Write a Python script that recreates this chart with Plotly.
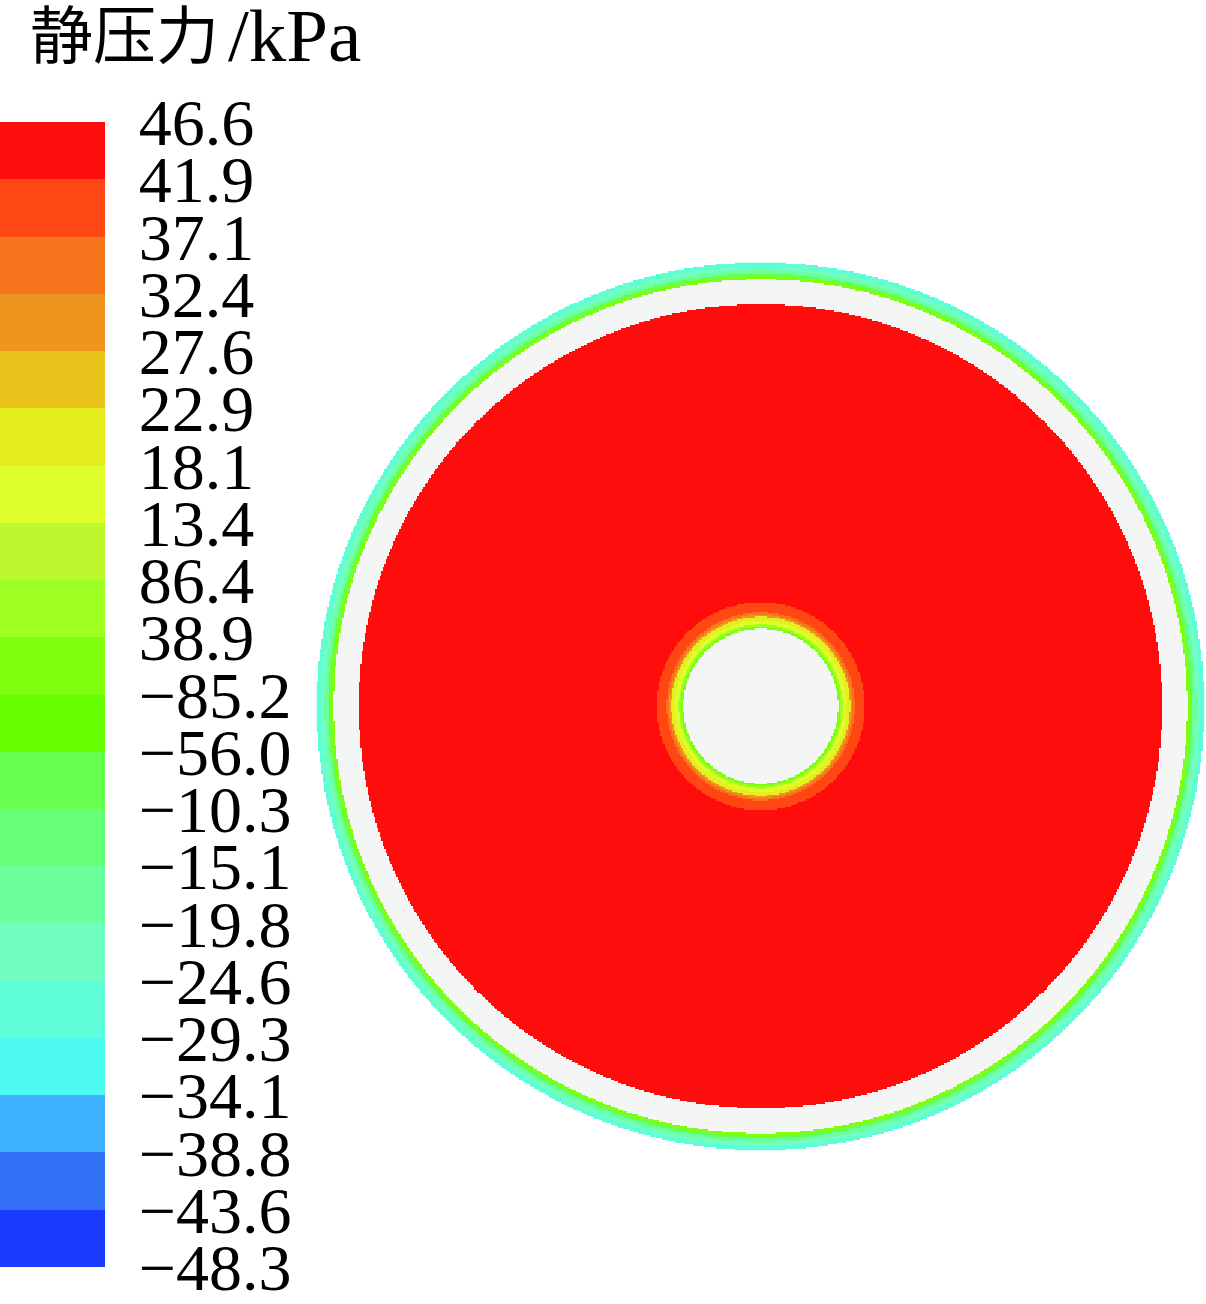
import numpy as np
import plotly.graph_objects as go

# ---------------- data ----------------
# colour-bar tick labels (as printed) and their level values (kPa)
tick_labels = ["46.6", "41.9", "37.1", "32.4", "27.6", "22.9", "18.1", "13.4",
               "86.4", "38.9", "\u221285.2", "\u221256.0", "\u221210.3", "\u221215.1",
               "\u221219.8", "\u221224.6", "\u221229.3", "\u221234.1", "\u221238.8",
               "\u221243.6", "\u221248.3"]
tick_levels = [46.6, 41.855, 37.11, 32.365, 27.62, 22.875, 18.13, 13.385,
               8.64, 3.895, -0.852, -5.60, -10.34, -15.085, -19.83, -24.575,
               -29.32, -34.065, -38.81, -43.555, -48.3]

# band colours, bottom (lowest) to top (highest)
band_colors = ["#1A3CFF", "#3270F5", "#3FB2FF", "#4CFAF2", "#5EFFD8", "#70FFC0",
               "#6CFF9E", "#66FF78", "#66FF4E", "#66FF00", "#7EFF0E", "#9EFF22",
               "#BDF82E", "#DEFF2A", "#E5EE1E", "#E9C21A", "#EE9520", "#F6751C",
               "#FF4714", "#FF0D0D"]

# radial layout of the section (outer radius of each zone)
# and static pressure in each zone (kPa); None = solid wall (no fluid)
zone_outer_radius = [77.5, 80.0, 82.0, 85.5, 89.5, 91.5, 94.0, 104.0, 402.0,
                     427.0, 430.0, 432.5, 436.0, 440.0, 444.0]
zone_pressure = [None, 1.5, 6.3, 15.8, 20.5, 30.0, 34.7, 39.5, 44.2,
                 None, 1.5, -8.0, -17.5, -22.2, -27.0]

title_cn = "静压力"
title_unit = "/kPa"

# ---------------- field ----------------
R = 444.0
N = 592
cell = 2 * R / N
coords = -R + cell / 2 + cell * np.arange(N)
X, Y = np.meshgrid(coords, coords)
rad = np.hypot(X, Y)

edges = np.array(zone_outer_radius)
idx = np.searchsorted(edges, rad, side="right")
pvals = np.array([np.nan if v is None else v for v in zone_pressure] + [np.nan])
solid = np.array([1.0 if v is None else np.nan for v in zone_pressure] + [np.nan])
Z = pvals[idx]
S = solid[idx]

zmin, zmax = tick_levels[-1], tick_levels[0]
nb = len(band_colors)
cscale = []
for i, c in enumerate(band_colors):
    cscale.append([i / nb, c])
    cscale.append([(i + 1) / nb, c])

# keep end ticks just inside the bar so they are not dropped
tv = list(tick_levels)
tv[0] -= 0.01
tv[-1] += 0.01

W, H = 1206, 1304
cx, cy, r_px = 760.5, 706.4, 444.0

fig = go.Figure()
fig.add_trace(go.Heatmap(
    x=coords, y=coords, z=S,
    colorscale=[[0, "#F4F6F5"], [1, "#F4F6F5"]],
    showscale=False, hoverinfo="skip", zsmooth=False,
))
fig.add_trace(go.Heatmap(
    x=coords, y=coords, z=Z,
    zmin=zmin, zmax=zmax, colorscale=cscale, zsmooth=False,
    hoverinfo="skip",
    colorbar=dict(
        xref="container", x=0, xanchor="left",
        yref="container", y=1 - 122 / H, yanchor="top",
        thickness=105, thicknessmode="pixels",
        len=1145, lenmode="pixels",
        xpad=0, ypad=0, outlinewidth=0,
        tickmode="array", tickvals=tv, ticktext=tick_labels,
        ticks="outside", ticklen=21, tickcolor="rgba(0,0,0,0)",
        ticklabeloverflow="allow",
        tickfont=dict(family="Liberation Serif, Times New Roman, serif", size=66, color="black"),
    ),
))

title_font = "Liberation Serif, Noto Sans CJK SC, serif"
fig.update_layout(
    width=W, height=H,
    margin=dict(l=0, r=0, t=0, b=0, autoexpand=False),
    paper_bgcolor="white", plot_bgcolor="white",
    xaxis=dict(visible=False, range=[-R, R],
               domain=[(cx - r_px) / W, (cx + r_px) / W]),
    yaxis=dict(visible=False, range=[-R, R],
               domain=[(H - cy - r_px) / H, (H - cy + r_px) / H]),
    annotations=[
        dict(text=title_cn, xref="paper", yref="paper",
             x=28 / W, y=1 - 37 / H, xanchor="left", yanchor="middle",
             showarrow=False,
             font=dict(family=title_font, size=63, color="black")),
        dict(text=title_unit, xref="paper", yref="paper",
             x=226 / W, y=1 - 36 / H, xanchor="left", yanchor="middle",
             showarrow=False,
             font=dict(family=title_font, size=75, color="black")),
    ],
)

fig.write_html("out.html",
               config={"displayModeBar": False},
               post_script="document.body.style.margin='0';document.body.style.overflow='hidden';")
